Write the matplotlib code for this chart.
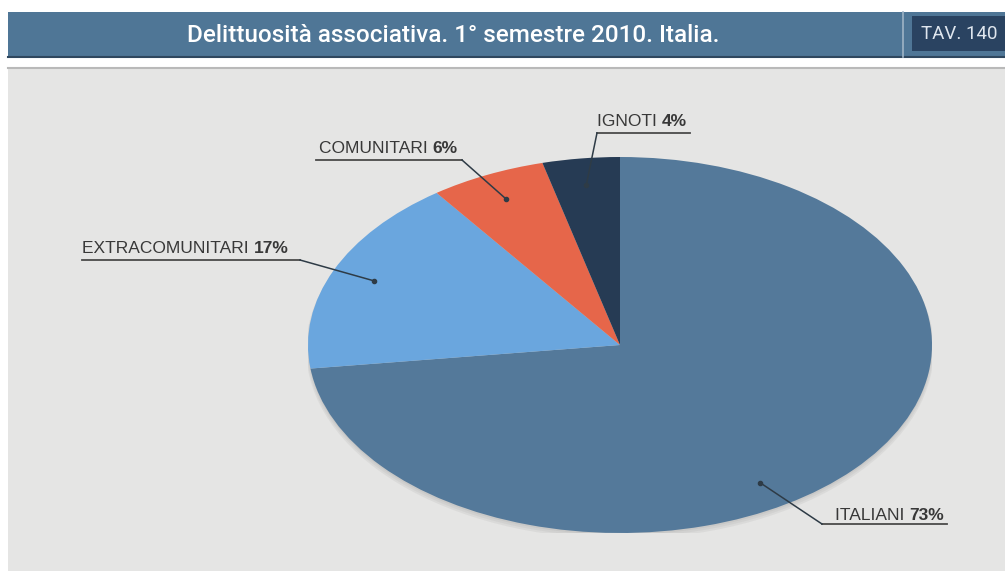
import matplotlib
matplotlib.use("Agg")
import matplotlib.pyplot as plt
from matplotlib.patches import Rectangle, Ellipse
import numpy as np

plt.rcParams['font.family'] = ['Liberation Sans', 'DejaVu Sans']

# ---- data ----
categories = ["ITALIANI", "EXTRACOMUNITARI", "COMUNITARI", "IGNOTI"]
values = [73, 17, 6, 4]
colors = ["#54799a", "#6aa6de", "#e6664a", "#263b54"]
title = "Delittuosità associativa. 1° semestre 2010. Italia."
tav_label = "TAV. 140"

W, H = 1005, 571
fig = plt.figure(figsize=(W / 100, H / 100), dpi=100)
fig.patch.set_facecolor("white")

# background axes in pixel coords (y from top)
bg = fig.add_axes([0, 0, 1, 1], zorder=0)
bg.set_xlim(0, W)
bg.set_ylim(H, 0)
bg.axis("off")

# header bar
bg.add_patch(Rectangle((8, 12), W - 8, 45, facecolor="#4f7696", edgecolor="none"))
bg.plot([8, W], [57, 57], color="#2f475e", lw=1.5)
bg.plot([903, 903], [12, 57], color="#9fb4c6", lw=1.2)
bg.add_patch(Rectangle((912, 16), W - 912, 35, facecolor="#2a4361", edgecolor="none"))
bg.text(453, 35, title, color="white", fontsize=17.5, ha="center", va="center",
        family=["Roboto", "DejaVu Sans"], fontweight="medium")
bg.text(959, 34, tav_label, color="#dfe6ee", fontsize=13.5, ha="center", va="center",
        family=["Roboto", "DejaVu Sans"])

# grey panel
bg.add_patch(Rectangle((8, 67), W - 8, H - 67, facecolor="#e5e5e4", edgecolor="none"))
bg.plot([8, W], [67.5, 67.5], color="#b9b9b9", lw=1.5)

# pie axes (stretched into an ellipse)
cx, cy, rx, ry = 620, 345, 312, 188
pax = fig.add_axes([(cx - rx) / W, (H - cy - ry) / H, 2 * rx / W, 2 * ry / H], zorder=1)
pax.patch.set_alpha(0)
# soft shadow
for i, a in enumerate([0.05, 0.05, 0.06]):
    pax.add_patch(Ellipse((0.0, -0.01 - 0.006 * i), 2.0 + 0.006 * i, 2.0 + 0.01 * i,
                          facecolor="#333333", alpha=a, edgecolor="none"))
wedges, _ = pax.pie(values, colors=colors, startangle=90, counterclock=False,
                    radius=1.0, wedgeprops=dict(linewidth=0))
pax.set_aspect("auto")
pax.set_xlim(-1, 1)
pax.set_ylim(-1, 1)
pax.axis("off")

# label axes
lax = fig.add_axes([0, 0, 1, 1], zorder=2)
lax.set_xlim(0, W)
lax.set_ylim(H, 0)
lax.axis("off")
lax.patch.set_alpha(0)


def anchor(idx, frac=0.5, r=0.86):
    w = wedges[idx]
    th = np.radians(w.theta1 + (w.theta2 - w.theta1) * frac)
    return cx + rx * r * np.cos(th), cy - ry * r * np.sin(th)

# (text left x, baseline y, underline from x, to x, underline y, leader side, position in wedge)
layout = {
    "EXTRACOMUNITARI": (82, 253, 82, 300, 260, "right", 0.5),
    "COMUNITARI": (319, 153, 316, 462, 160, "right", 0.5),
    "IGNOTI": (597, 126, 597, 690, 133, "left", 0.5),
    "ITALIANI": (835, 520, 822, 947, 524, "left", 0.435),
}

txtcol = "#383838"
for i, (cat, val) in enumerate(zip(categories, values)):
    tx, ty, ux0, ux1, uy, side, frac = layout[cat]
    t = lax.text(tx, ty, cat + " ", fontsize=12.5, color=txtcol, ha="left", va="baseline")
    lax.annotate(f"{val}%", xy=(1, 0), xycoords=t, fontsize=12.5, fontweight="bold",
                 color=txtcol, ha="left", va="bottom")
    lax.plot([ux0, ux1], [uy, uy], color="#4a4a4a", lw=1.3)
    ax_, ay_ = anchor(i, frac)
    sx = ux1 if side == "right" else ux0
    lax.plot([sx, ax_], [uy, ay_], color="#2e3b46", lw=1.1)
    lax.plot([ax_], [ay_], "o", color="#2e3b46", ms=3)

fig.savefig("out.png", dpi=100, facecolor=fig.get_facecolor())
